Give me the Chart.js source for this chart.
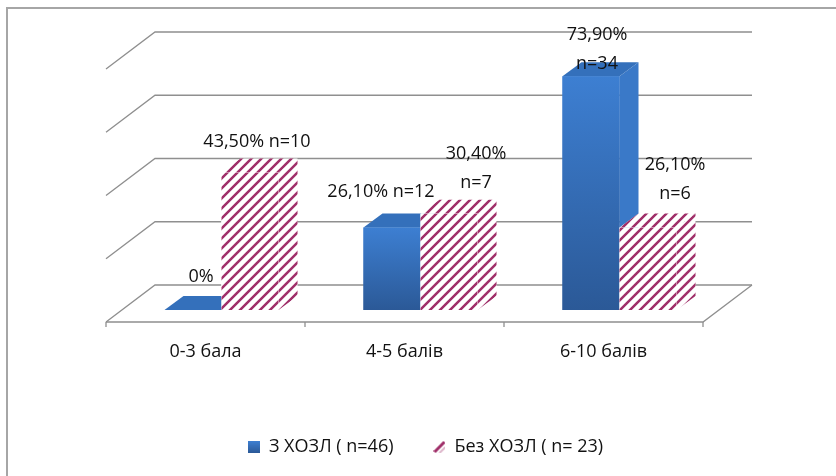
<!DOCTYPE html>
<html>
<head>
<meta charset="utf-8">
<script src="https://cdn.jsdelivr.net/npm/chart.js@4.4.1/dist/chart.umd.min.js"></script>
<style>
html,body{margin:0;padding:0;background:#fff;}
#wrap{width:836px;height:476px;position:relative;}
</style>
</head>
<body>
<div id="wrap"><canvas id="c" width="836" height="476"></canvas></div>
<script>
// ---- data ----
const categories = ['0-3 бала', '4-5 балів', '6-10 балів'];
const seriesNames = ['З ХОЗЛ ( n=46)', 'Без ХОЗЛ ( n= 23)'];
const withCOPD = [0, 26.1, 73.9];
const withoutCOPD = [43.5, 30.4, 26.1];
const withCOPDLabels = [['0%'], ['26,10% n=12'], ['73,90%', 'n=34']];
const withoutCOPDLabels = [['43,50% n=10'], ['30,40%', 'n=7'], ['26,10%', 'n=6']];
const yTicks = [0, 20, 40, 60, 80];

// ---- style ----
const FONT = '"Open Sans", "Noto Sans", sans-serif';
const TEXT = '#111111';
const BACK = {x: 33, y: -25};   // back wall offset from bar plane
const FRONT = {x: -16, y: 12};  // front floor edge offset from bar plane
const BARD = {x: 19, y: -14};   // bar depth
const blueTop = '#3d7fd2', blueBottom = '#2b5997';
const blueTopFace = '#3470bb', blueSideFace = '#3a79c8';
const pinkStripe = '#a0306a';
const labelNudge = [
  [[-1.5, -19], [-20.5, -21.5], [-3.5, -13.3]],
  [[-2.5, -16.4], [17.5, -31.4], [17.5, -34]]
];

const mainCtx = document.getElementById('c').getContext('2d');

function legendBlue() {
  const c = document.createElement('canvas'); c.width = 12; c.height = 12;
  const g = c.getContext('2d');
  const gr = g.createLinearGradient(0, 0, 0, 12);
  gr.addColorStop(0, blueTop); gr.addColorStop(1, blueBottom);
  g.fillStyle = gr; g.fillRect(0, 0, 12, 12);
  return c;
}
function legendPink() {
  const c = document.createElement('canvas'); c.width = 12; c.height = 12;
  const g = c.getContext('2d');
  g.fillStyle = '#fff'; g.fillRect(0, 0, 12, 12);
  g.strokeStyle = pinkStripe; g.lineWidth = 3;
  g.beginPath(); g.moveTo(1, 11); g.lineTo(11, 1); g.stroke();
  g.strokeStyle = 'rgba(160,48,106,0.35)'; g.lineWidth = 2;
  g.beginPath(); g.moveTo(6, 12); g.lineTo(12, 6); g.stroke();
  return c;
}

function blueFill(c) {
  const chart = c.chart;
  if (!chart.chartArea || c.type !== 'data') return blueTop;
  const ys = chart.scales.y;
  const top = ys.getPixelForValue(c.parsed.y), bot = ys.getPixelForValue(0);
  if (bot - top < 2) return blueTopFace;
  const g = chart.ctx.createLinearGradient(0, top, 0, bot);
  g.addColorStop(0, blueTop); g.addColorStop(1, blueBottom);
  return g;
}

function path(ctx, pts) {
  ctx.beginPath();
  ctx.moveTo(pts[0][0], pts[0][1]);
  for (let i = 1; i < pts.length; i++) ctx.lineTo(pts[i][0], pts[i][1]);
  ctx.closePath();
}
function poly(ctx, pts, fill) {
  path(ctx, pts);
  ctx.fillStyle = fill; ctx.fill();
}
function hatchPoly(ctx, pts) {
  ctx.save();
  path(ctx, pts);
  ctx.fillStyle = '#fff'; ctx.fill();
  ctx.clip();
  const xs = pts.map(p => p[0]), ys = pts.map(p => p[1]);
  const minX = Math.min(...xs), maxX = Math.max(...xs), minY = Math.min(...ys), maxY = Math.max(...ys);
  const P = 10;
  ctx.strokeStyle = pinkStripe; ctx.lineWidth = 2.5;
  ctx.beginPath();
  for (let c = Math.floor((minX + minY) / P) * P - P; c <= maxX + maxY + P; c += P) {
    ctx.moveTo(c - maxY - 2, maxY + 2);
    ctx.lineTo(c - minY + 2, minY - 2);
  }
  ctx.stroke();
  ctx.restore();
}

const threeD = {
  id: 'threeD',
  afterLayout(chart) {
    const lg = chart.legend;
    if (lg) { lg.left += 5; lg.right += 5; }
  },
  beforeDraw(chart) {
    const ctx = chart.ctx;
    ctx.save();
    ctx.strokeStyle = '#a6a6a6'; ctx.lineWidth = 2;
    ctx.beginPath(); ctx.moveTo(7, 476); ctx.lineTo(7, 8); ctx.lineTo(836, 8); ctx.stroke();
    ctx.restore();
  },
  beforeDatasetsDraw(chart) {
    const ctx = chart.ctx, ys = chart.scales.y, xs = chart.scales.x, ca = chart.chartArea;
    ctx.save();
    ctx.strokeStyle = '#8f8f8f'; ctx.lineWidth = 1.3;
    yTicks.forEach(v => {
      const yy = ys.getPixelForValue(v);
      ctx.beginPath();
      ctx.moveTo(ca.left + FRONT.x, yy + FRONT.y);
      ctx.lineTo(ca.left + BACK.x, yy + BACK.y);
      ctx.lineTo(ca.right + BACK.x, yy + BACK.y);
      ctx.stroke();
    });
    const y0 = ys.getPixelForValue(0);
    ctx.beginPath();
    ctx.moveTo(ca.left + FRONT.x, y0 + FRONT.y);
    ctx.lineTo(ca.right + FRONT.x, y0 + FRONT.y);
    ctx.lineTo(ca.right + BACK.x, y0 + BACK.y);
    ctx.stroke();
    for (let i = 0; i <= categories.length; i++) {
      const x = xs.getPixelForValue(i - 0.5) + FRONT.x;
      ctx.beginPath();
      ctx.moveTo(x, y0 + FRONT.y);
      ctx.lineTo(x, y0 + FRONT.y + 5);
      ctx.stroke();
    }
    ctx.restore();
  },
  afterDatasetsDraw(chart) {
    const ctx = chart.ctx;
    ctx.save();
    chart.data.datasets.forEach((ds, di) => {
      const meta = chart.getDatasetMeta(di);
      meta.data.forEach(el => {
        const xl = el.x - el.width / 2, xr = el.x + el.width / 2;
        const yt = el.y, yb = el.base;
        const side = [[xr, yt], [xr + BARD.x, yt + BARD.y], [xr + BARD.x, yb + BARD.y], [xr, yb]];
        const top = [[xl, yt], [xr, yt], [xr + BARD.x, yt + BARD.y], [xl + BARD.x, yt + BARD.y]];
        const front = [[xl, yt], [xr, yt], [xr, yb], [xl, yb]];
        if (di === 0) {
          poly(ctx, side, blueSideFace);
          poly(ctx, top, blueTopFace);
          el.draw(ctx, chart.chartArea);
        } else {
          hatchPoly(ctx, side);
          hatchPoly(ctx, top);
          el.draw(ctx, chart.chartArea);
          hatchPoly(ctx, front);
        }
      });
    });
    // data labels
    const labels = [withCOPDLabels, withoutCOPDLabels];
    ctx.font = '18px ' + FONT;
    ctx.fillStyle = TEXT;
    ctx.textAlign = 'center';
    ctx.textBaseline = 'middle';
    const lh = 29;
    chart.data.datasets.forEach((ds, di) => {
      const meta = chart.getDatasetMeta(di);
      meta.data.forEach((el, i) => {
        const lines = labels[di][i];
        const ax = el.x + BARD.x / 2 + labelNudge[di][i][0];
        const ay = el.y + BARD.y + labelNudge[di][i][1];
        const sy = ay - (lines.length - 1) * lh / 2;
        lines.forEach((t, k) => ctx.fillText(t, ax, sy + k * lh));
      });
    });
    ctx.restore();
  }
};

new Chart(mainCtx, {
  type: 'bar',
  data: {
    labels: categories,
    datasets: [
      {label: seriesNames[0], data: withCOPD, backgroundColor: blueFill, borderWidth: 0},
      {label: seriesNames[1], data: withoutCOPD, backgroundColor: '#ffffff', borderWidth: 0}
    ]
  },
  options: {
    responsive: false,
    devicePixelRatio: 1,
    animation: false,
    layout: {padding: {left: 122, right: 117, top: 57, bottom: 10}},
    datasets: {bar: {categoryPercentage: 0.573, barPercentage: 1}},
    scales: {
      x: {
        grid: {display: false, drawTicks: false},
        border: {display: false},
        ticks: {font: {family: FONT, size: 18}, color: TEXT, padding: 31, labelOffset: -16, maxRotation: 0, autoSkip: false},
        afterFit(scale) { scale.height = 88; }
      },
      y: {display: false, min: 0, max: 80, ticks: {stepSize: 20}}
    },
    plugins: {
      tooltip: {enabled: false},
      legend: {
        position: 'bottom',
        labels: {
          font: {family: FONT, size: 18},
          color: TEXT,
          boxWidth: 12, boxHeight: 12,
          padding: 40,
          usePointStyle: true,
          generateLabels(chart) {
            const imgs = [legendBlue(), legendPink()];
            return chart.data.datasets.map((d, i) => ({
              text: d.label, pointStyle: imgs[i], fillStyle: 'transparent',
              strokeStyle: 'transparent', lineWidth: 0, hidden: false, datasetIndex: i, fontColor: TEXT
            }));
          }
        }
      }
    }
  },
  plugins: [threeD]
});
</script>
</body>
</html>
